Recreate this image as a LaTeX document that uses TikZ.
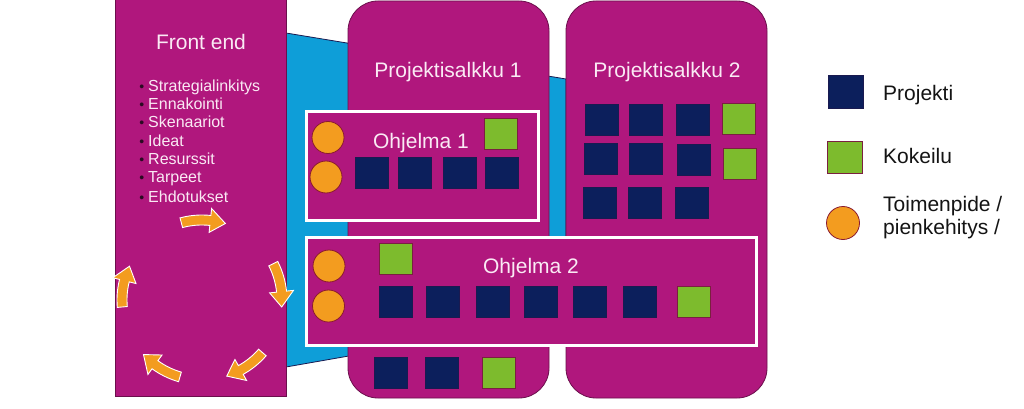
\documentclass[tikz,border=0pt]{standalone}
\usepackage{fontspec}
\setmainfont{Liberation Sans}
\definecolor{mag}{HTML}{B0177D}
\definecolor{magedge}{HTML}{6B0F4C}
\definecolor{cyanb}{HTML}{0E9ED8}
\definecolor{navy}{HTML}{0C1F5C}
\definecolor{navyedge}{HTML}{1A1A50}
\definecolor{kgreen}{HTML}{7DBB2D}
\definecolor{kedge}{HTML}{7A2040}
\definecolor{oran}{HTML}{F39C1F}
\definecolor{oedge}{HTML}{8A1A30}
\definecolor{legtext}{HTML}{141414}
\definecolor{bul}{HTML}{2B0A22}
\definecolor{ptext}{HTML}{FAEAF4}
\begin{document}
\begin{tikzpicture}[x=1pt,y=-1pt,
  panel/.style={fill=mag,draw=magedge,line width=0.8pt},
  prog/.style={fill=mag,draw=white,line width=3pt},
  proj/.style={rectangle,fill=navy,draw=navyedge,line width=0.6pt,minimum width=33pt,minimum height=31pt,inner sep=0pt},
  kok/.style={rectangle,fill=kgreen,draw=kedge,line width=0.6pt,minimum width=33pt,minimum height=31pt,inner sep=0pt},
  toim/.style={circle,fill=oran,draw=oedge,line width=0.8pt,minimum size=32pt,inner sep=0pt},
  ttl/.style={text=ptext,font=\fontsize{21}{25}\selectfont,inner sep=0pt,anchor=base},
  itm/.style={text=ptext,font=\fontsize{16}{19}\selectfont,inner sep=0pt,anchor=base west},
  leg/.style={text=legtext,font=\fontsize{21}{25}\selectfont,inner sep=0pt,anchor=base west},
  cyc/.style={fill=oran,draw=white,line width=0.9pt,line join=miter}
]
\useasboundingbox[fill=white] (0,0) rectangle (1024,409);

% blue connector band
\draw[fill=cyanb,draw=navyedge,line width=0.8pt] (286,33) -- (566,79) -- (566,318) -- (286,367) -- cycle;

% panels
\draw[panel] (115,-3) rectangle (286.5,396);
\draw[panel,rounded corners=30pt] (348,1) rectangle (549,398);
\draw[panel,rounded corners=30pt] (566,1) rectangle (767,398);

% programmes
\draw[prog] (306.5,112) rectangle (538,220);
\draw[prog] (306.5,237.5) rectangle (756.5,345.5);

% titles
\node[ttl] (fe) at (201,50) {Front end};
\node[ttl] (p1t) at (448,78) {Projektisalkku 1};
\node[ttl] (p2t) at (667,78) {Projektisalkku 2};
\node[ttl] (o1t) at (421,148) {Ohjelma 1};
\node[ttl] (o2t) at (531,273) {Ohjelma 2};

% front end list
\foreach \t/\yy [count=\i] in {Strategialinkitys/92, Ennakointi/110, Skenaariot/127.5, Ideat/146, Resurssit/164, Tarpeet/182.5, Ehdotukset/202.5}
  \node[itm] (fe\i) at (148,\yy) {\makebox[0pt][r]{\textcolor{bul}{\fontsize{14}{14}\selectfont •}\hspace{4pt}}\t};

% cycle arrows
\begin{scope}[shift={(202,300)}]
\foreach \a/\b in {-105/-73, -27/5, 41/72, 106/137, 175/205} {
  \pgfmathsetmacro\hd{\b-11}
  \draw[cyc] (\a:85) arc[start angle=\a, end angle=\hd, radius=85] -- (\hd:92) -- (\b:80) -- (\hd:68) -- (\hd:75) arc[start angle=\hd, end angle=\a, radius=75] -- cycle;
}
\end{scope}

% Ohjelma 1
\node[toim] (o1c1) at (328,137.5) {};
\node[toim] (o1c2) at (326,177) {};
\node[kok] (o1k1) at (500.5,133.5) {};
\foreach \xx [count=\i] in {371.5,415,459.5,502}
  \node[proj] (o1p\i) at (\xx,173) {};

% Ohjelma 2
\node[toim] (o2c1) at (329,266) {};
\node[toim] (o2c2) at (328.5,306) {};
\node[kok] (o2k1) at (395.5,258.5) {};
\foreach \xx [count=\i] in {395.5,442.5,492.5,541,590,639.5}
  \node[proj] (o2p\i) at (\xx,301.5) {};
\node[kok] (o2k2) at (693.5,301.5) {};

% Projektisalkku 1 loose items
\node[proj] (p1p1) at (390.5,372.5) {};
\node[proj] (p1p2) at (442,372.5) {};
\node[kok] (p1k1) at (499,373) {};

% Projektisalkku 2 grid
\node[proj] (p2p1) at (601.5,120) {};
\node[proj] (p2p2) at (645.5,120) {};
\node[proj] (p2p3) at (692.5,119.5) {};
\node[kok] (p2k1) at (738.5,119) {};
\node[proj] (p2p4) at (600.5,159) {};
\node[proj] (p2p5) at (645.5,159) {};
\node[proj] (p2p6) at (693.5,160) {};
\node[kok] (p2k2) at (739.5,163.5) {};
\node[proj] (p2p7) at (600,202.5) {};
\node[proj] (p2p8) at (645,203) {};
\node[proj] (p2p9) at (692,202.5) {};

% legend
\node[proj,minimum width=35pt,minimum height=33pt] (lp) at (845.5,91.5) {};
\node[leg] (lpt) at (883,100) {Projekti};
\node[kok,minimum width=35pt,minimum height=32pt] (lk) at (844.5,157) {};
\node[leg] (lkt) at (883,163.5) {Kokeilu};
\node[toim,minimum size=33pt] (lt) at (843,223) {};
\node[leg] (ltt1) at (883,211.5) {Toimenpide /};
\node[leg] (ltt2) at (883,234) {pienkehitys /};
\end{tikzpicture}
\end{document}
